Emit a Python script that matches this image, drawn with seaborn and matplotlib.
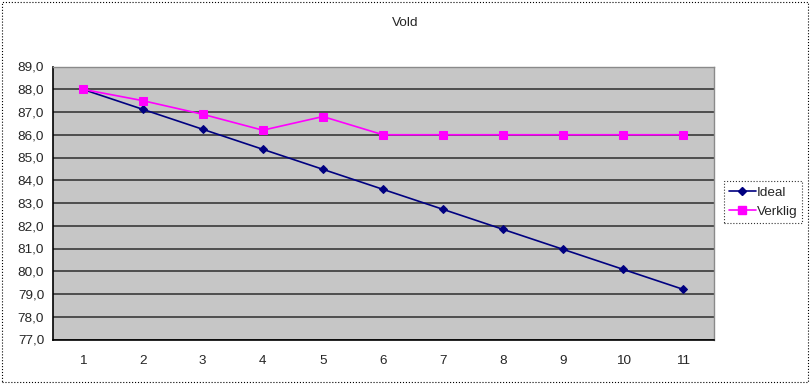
import matplotlib
matplotlib.use("Agg")
import matplotlib.pyplot as plt
import seaborn as sns
import pandas as pd
from matplotlib.ticker import FixedLocator, FuncFormatter
from matplotlib.patches import Rectangle
from matplotlib.lines import Line2D

categories = [1, 2, 3, 4, 5, 6, 7, 8, 9, 10, 11]
ideal = [88.0, 87.12, 86.24, 85.36, 84.48, 83.6, 82.72, 81.84, 80.96, 80.08, 79.2]
verklig = [88.0, 87.5, 86.9, 86.2, 86.8, 86.0, 86.0, 86.0, 86.0, 86.0, 86.0]
series_names = ["Ideal", "Verklig"]
title = "Vold"

df = pd.DataFrame({
    "x": categories * 2,
    "y": ideal + verklig,
    "serie": [series_names[0]] * len(categories) + [series_names[1]] * len(categories),
})

sns.set_style("white")
plt.rcParams["font.family"] = ["Liberation Sans", "DejaVu Sans"]
FS = 9.7

fig = plt.figure(figsize=(8.11, 3.84), dpi=100)
ax = fig.add_axes([52.5 / 811, 1 - 339.5 / 384, 661 / 811, 273 / 384])
ax.set_facecolor("#c6c6c6")

colors = {"Ideal": "#000080", "Verklig": "#FF00FF"}
markers = {"Ideal": "D", "Verklig": "s"}
sizes_ms = {"Ideal": 4, "Verklig": 6}

for name in series_names:
    sub = df[df["serie"] == name]
    sns.lineplot(data=sub, x="x", y="y", ax=ax, color=colors[name],
                 marker=markers[name], markersize=sizes_ms[name],
                 markeredgecolor=colors[name], linewidth=1.2, legend=False, zorder=3)

ax.set_xlim(0.5, 11.5)
ax.set_ylim(77, 89)
ax.yaxis.set_major_locator(FixedLocator(list(range(77, 90))))
ax.yaxis.set_major_formatter(FuncFormatter(lambda v, p: f"{v:.1f}".replace(".", ",")))
ax.set_xticks(categories)
ax.set_xticklabels([str(c) for c in categories])
ax.set_xticks([c + 0.5 for c in range(0, 12)], minor=True)
ax.tick_params(axis="x", which="major", length=0, pad=11, labelsize=FS)
ax.tick_params(axis="x", which="minor", length=4, width=1, color="black", direction="out")
ax.tick_params(axis="y", which="major", length=4, width=1, color="black", direction="out", pad=2, labelsize=FS)
ax.set_xlabel("")
ax.set_ylabel("")

ax.grid(axis="y", color="#444444", linewidth=1.3, zorder=1)
ax.set_axisbelow(True)
for s in ["left", "bottom"]:
    ax.spines[s].set_color("black")
    ax.spines[s].set_linewidth(1.2)
for s in ["top", "right"]:
    ax.spines[s].set_color("#8a8a8a")
    ax.spines[s].set_linewidth(1.0)

fig.text(405 / 811, 1 - 23 / 384, title, ha="center", va="center", fontsize=FS)

handles = [Line2D([0], [0], color=colors[n], marker=markers[n], markersize=sizes_ms[n],
                  markeredgecolor=colors[n], linewidth=1.2) for n in series_names]
leg = fig.legend(handles, series_names, loc="center left",
                 bbox_to_anchor=(724 / 811, 1 - 202 / 384), fontsize=FS,
                 frameon=True, fancybox=False, handlelength=2.0, handletextpad=0.1,
                 borderpad=0.35, labelspacing=0.5, borderaxespad=0)
leg.get_frame().set_edgecolor("black")
leg.get_frame().set_linestyle(":")
leg.get_frame().set_linewidth(0.8)

fig.patches.append(Rectangle((0.002, 0.004), 0.994, 0.992, transform=fig.transFigure,
                             fill=False, edgecolor="black", linestyle=":", linewidth=0.8))

fig.savefig("out.png", dpi=100)
